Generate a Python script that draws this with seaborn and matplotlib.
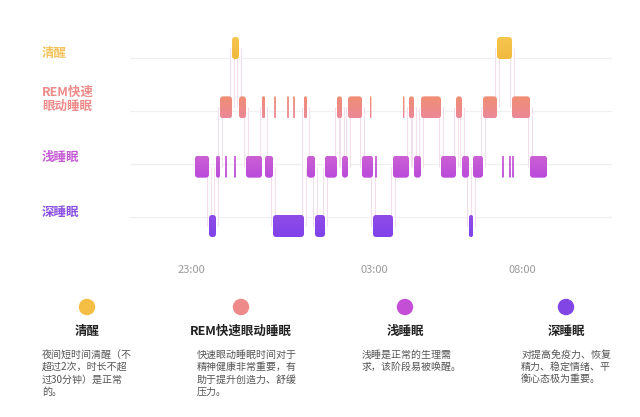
import numpy as np
import matplotlib
matplotlib.use("Agg")
import matplotlib.pyplot as plt
import seaborn as sns
from matplotlib.patches import FancyBboxPatch
from matplotlib.colors import LinearSegmentedColormap

# ---------------- data ----------------
# stage codes: 0 = 深睡眠, 1 = 浅睡眠, 2 = REM, 3 = 清醒
stage_labels = ["深睡眠", "浅睡眠", "REM快速\n眼动睡眠", "清醒"]
# main sequence of sleep stages (time index along the night)
seg_stage = [1, 0, 1, 2, 3, 2, 1, 2, 1, 0, 2, 1, 0, 1, 2, 1,
             2, 1, 0, 1, 2, 1, 2, 1, 2, 1, 0, 1, 2, 3, 2, 1]
seg_edges = [195, 209, 216, 220, 232, 239, 246, 262, 265, 273, 304, 307,
             315, 325, 337, 342, 348, 362, 373, 393, 409, 414, 421, 441,
             456, 462, 469, 473, 483, 497, 512, 530, 547]
# brief stage flickers (thin marks)
mark_stage = [1, 1, 2, 2, 2, 2, 1, 2, 1, 1, 1]
mark_time = [226, 235, 275, 288, 294, 370.5, 376, 403.5, 503, 510, 513]

tick_pos = [191, 374, 522]
tick_labels = ["23:00", "03:00", "08:00"]

legend_titles = ["清醒", "REM快速眼动睡眠", "浅睡眠", "深睡眠"]
legend_desc = [
    ["夜间短时间清醒（不", "超过2次，时长不超", "过30分钟）是正常", "的。"],
    ["快速眼动睡眠时间对于", "精神健康非常重要，有", "助于提升创造力、舒缓", "压力。"],
    ["浅睡是正常的生理需", "求，该阶段易被唤醒。"],
    ["对提高免疫力、恢复", "精力、稳定情绪、平", "衡心态极为重要。"],
]

# ---------------- style ----------------
sns.set_theme(style="white")
plt.rcParams["font.family"] = ["Noto Sans CJK SC", "DejaVu Sans"]

grad = {
    3: ("#F6C64E", "#F1B93F"),
    2: ("#F08E74", "#EB8898"),
    1: ("#CB60D3", "#BA4ADB"),
    0: ("#8F4CE6", "#8043EA"),
}
label_colors = {3: "#F3C25A", 2: "#EE8A8A", 1: "#C45AD4", 0: "#8A4FE0"}
legend_colors = ["#F4BE45", "#EE8A8A", "#C44FD6", "#8145E6"]

W, H = 640, 417
fig = plt.figure(figsize=(W / 100, H / 100), dpi=100)
fig.patch.set_facecolor("white")

# main hypnogram axes: 1 x-unit == 1 px, row spacing ~59.3 px
ax_l, ax_r, ax_t, ax_b = 130, 612, 30, 250
row_px = 59.33
ax = fig.add_axes([ax_l / W, 1 - ax_b / H, (ax_r - ax_l) / W, (ax_b - ax_t) / H])
ax.set_facecolor("white")
ylo = (226 - ax_b) / row_px
yhi = (226 - ax_t) / row_px

grid_y = [2.83, 1.94, 1.045, 0.152]
for gy in grid_y:
    ax.axhline(gy, color="#F0F0F0", lw=0.9, zorder=0)

bh = 22 / row_px  # block height in row units
asp = 1 / row_px


def block(x0, x1, st):
    w = x1 - x0
    r = min(3.0, w / 2)
    y0 = st - bh / 2
    p = FancyBboxPatch((x0, y0), w, bh,
                       boxstyle=f"round,pad=0,rounding_size={r}",
                       mutation_aspect=asp, facecolor="none",
                       edgecolor="none", zorder=3)
    ax.add_patch(p)
    cm = LinearSegmentedColormap.from_list("g", list(grad[st]))
    im = ax.imshow(np.linspace(0, 1, 32).reshape(-1, 1), cmap=cm,
                   extent=[x0, x1, y0, y0 + bh], aspect="auto",
                   origin="upper", zorder=3, interpolation="bilinear")
    im.set_clip_path(p)


# connectors
for i in range(len(seg_stage) - 1):
    x = seg_edges[i + 1]
    a, b = seg_stage[i], seg_stage[i + 1]
    ax.plot([x, x], [a, b], color="#F1DFEC", lw=3.6,
            solid_capstyle="butt", zorder=1)
    ax.plot([x, x], [a, b], color="white", lw=2.0,
            solid_capstyle="butt", zorder=2)

for i, st in enumerate(seg_stage):
    block(seg_edges[i], seg_edges[i + 1], st)

for t, st in zip(mark_time, mark_stage):
    block(t - 0.9, t + 0.9, st)

ax.set_xlim(ax_l, ax_r)
ax.set_ylim(ylo, yhi)
ax.set_yticks([])
ax.set_xticks(tick_pos, tick_labels)
ax.tick_params(axis="x", length=0, pad=11, labelsize=8, labelcolor="#9A9A9A")
for s in ax.spines.values():
    s.set_visible(False)

# overlay axes in pixel coordinates for labels / legend
ov = fig.add_axes([0, 0, 1, 1], zorder=5)
ov.patch.set_alpha(0)

row_label_y = {3: 53, 2: 99, 1: 158, 0: 212}
legend_x = [87, 241, 405, 566]
sns.scatterplot(x=legend_x, y=[307] * 4, hue=legend_titles,
                palette=legend_colors, s=140, edgecolor="none",
                legend=False, ax=ov)
ov.set_xlim(0, W)
ov.set_ylim(H, 0)
ov.axis("off")

for st in [3, 2, 1, 0]:
    ov.text(42, row_label_y[st], stage_labels[st], color=label_colors[st],
            fontsize=9, fontweight="bold", ha="left", va="center",
            linespacing=1.15)

desc_x = [42, 197, 362, 521]
for lx, title, dx, lines in zip(legend_x, legend_titles, desc_x, legend_desc):
    ov.text(lx, 331, title, ha="center", va="center", fontsize=9,
            fontweight="bold", color="#222222")
    for j, ln in enumerate(lines):
        ov.text(dx, 355 + j * 12.2, ln, ha="left", va="center",
                fontsize=7.2, color="#555555")

fig.savefig("out.png", dpi=100, facecolor="white")
